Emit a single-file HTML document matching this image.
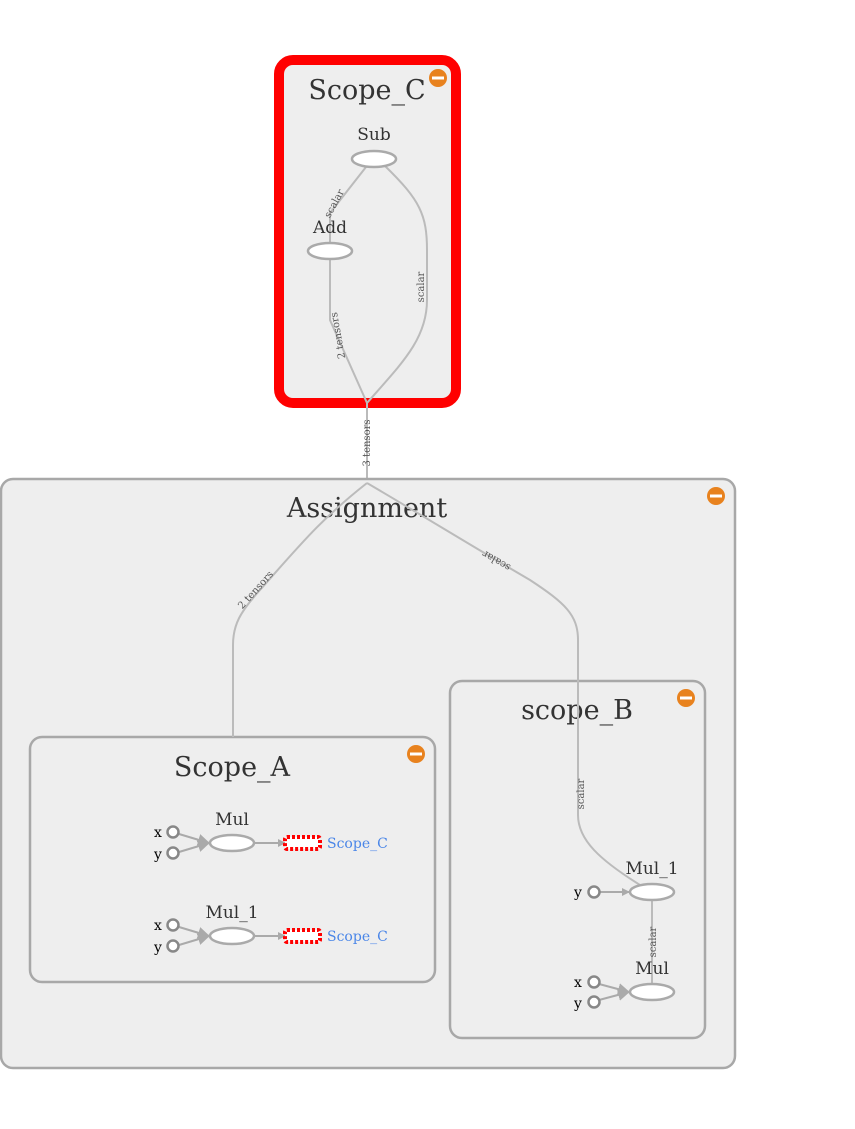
<!DOCTYPE html>
<html><head><style>body{margin:0;background:#fff}svg{display:block}</style></head><body>
<svg width="855" height="1129" viewBox="0 0 855 1129" xmlns="http://www.w3.org/2000/svg" font-family="'DejaVu Serif','Liberation Serif',serif">
<defs><marker id="ar" markerWidth="8" markerHeight="8" refX="7" refY="4" orient="auto" markerUnits="userSpaceOnUse"><path d="M0,0L8,4L0,8z" fill="#aaa"/></marker>
<marker id="ar2" markerWidth="12" markerHeight="12" refX="11" refY="6" orient="auto" markerUnits="userSpaceOnUse"><path d="M0,0L12,6L0,12z" fill="#aaa"/></marker></defs>
<rect x="279" y="60" width="177" height="343" rx="14" fill="#eee" stroke="#f00" stroke-width="10"/>
<text x="367" y="99" font-size="27" text-anchor="middle" fill="#333">Scope_C</text>
<circle cx="438" cy="78" r="9" fill="#e8821e"/><rect x="432" y="76.5" width="12" height="3" fill="#fff"/>
<g fill="none" stroke="#bbb" stroke-width="2">
<path d="M366,167 L330,213 L330,243"/>
<path d="M385,166 C420,200 427,215 427,250 L427,300 C427,340 400,365 367,403"/>
<path d="M330,259 L330,320 L367,403"/>
<path d="M367,403 L367,483"/>
</g>
<text font-size="10" fill="#555" transform="translate(337,205) rotate(-62)" text-anchor="middle">scalar</text>
<text font-size="10" fill="#555" transform="translate(424,287) rotate(-90)" text-anchor="middle">scalar</text>
<text font-size="10" fill="#555" transform="translate(341,335) rotate(-100)" text-anchor="middle">2 tensors</text>
<text font-size="10" fill="#555" transform="translate(370,443) rotate(-90)" text-anchor="middle">3 tensors</text>
<text x="374" y="140" font-size="17" text-anchor="middle" fill="#333">Sub</text>
<ellipse cx="374" cy="159" rx="22" ry="8" fill="#fff" stroke="#aaa" stroke-width="2.5"/>
<text x="330" y="233" font-size="17" text-anchor="middle" fill="#333">Add</text>
<ellipse cx="330" cy="251" rx="22" ry="8" fill="#fff" stroke="#aaa" stroke-width="2.5"/>
<rect x="1" y="479" width="734" height="589" rx="12" fill="#eee" stroke="#a8a8a8" stroke-width="2.5"/>
<text x="367" y="517" font-size="27" text-anchor="middle" fill="#333">Assignment</text>
<circle cx="716" cy="496" r="9" fill="#e8821e"/><rect x="710" y="494.5" width="12" height="3" fill="#fff"/>
<rect x="30" y="737" width="405" height="245" rx="12" fill="#eee" stroke="#a8a8a8" stroke-width="2.5"/>
<text x="232" y="776" font-size="27" text-anchor="middle" fill="#333">Scope_A</text>
<circle cx="416" cy="754" r="9" fill="#e8821e"/><rect x="410" y="752.5" width="12" height="3" fill="#fff"/>
<rect x="450" y="681" width="255" height="357" rx="12" fill="#eee" stroke="#a8a8a8" stroke-width="2.5"/>
<text x="577" y="719" font-size="27" text-anchor="middle" fill="#333">scope_B</text>
<circle cx="686" cy="698" r="9" fill="#e8821e"/><rect x="680" y="696.5" width="12" height="3" fill="#fff"/>
<g fill="none" stroke="#bbb" stroke-width="2">
<path d="M367,483 C320,520 300,545 260,590 C240,612 233,625 233,645 L233,737"/>
<path d="M367,483 C430,520 470,545 530,580 C565,603 578,615 578,640 L578,815 C578,840 600,860 640,885"/>
<path d="M652,900 L652,984"/>
</g>
<text font-size="10" fill="#555" transform="translate(258,592) rotate(-48)" text-anchor="middle">2 tensors</text>
<text font-size="10" fill="#555" transform="translate(498,558) rotate(210)" text-anchor="middle">scalar</text>
<text font-size="10" fill="#555" transform="translate(584,794) rotate(-90)" text-anchor="middle">scalar</text>
<text font-size="10" fill="#555" transform="translate(656,942) rotate(-90)" text-anchor="middle">scalar</text>
<g font-size="14" fill="#000">
<text x="158" y="837" text-anchor="middle">x</text><text x="158" y="859" text-anchor="middle">y</text>
<text x="158" y="930" text-anchor="middle">x</text><text x="158" y="952" text-anchor="middle">y</text>
<text x="578" y="897" text-anchor="middle">y</text>
<text x="578" y="987" text-anchor="middle">x</text><text x="578" y="1008" text-anchor="middle">y</text>
</g>
<g fill="none" stroke="#aaa" stroke-width="2">
<path d="M179,834 L209,843" marker-end="url(#ar2)"/><path d="M179,852 L209,843" marker-end="url(#ar2)"/>
<path d="M179,927 L209,936" marker-end="url(#ar2)"/><path d="M179,945 L209,936" marker-end="url(#ar2)"/>
<path d="M254,843 L285,843" marker-end="url(#ar)"/><path d="M254,936 L285,936" marker-end="url(#ar)"/>
<path d="M600,892 L629,892" marker-end="url(#ar)"/>
<path d="M599,984 L629,992" marker-end="url(#ar2)"/><path d="M599,1000 L629,992" marker-end="url(#ar2)"/>
</g>
<g fill="#fff" stroke="#888" stroke-width="2.5">
<circle cx="173" cy="832" r="5.5"/><circle cx="173" cy="853" r="5.5"/>
<circle cx="173" cy="925" r="5.5"/><circle cx="173" cy="946" r="5.5"/>
<circle cx="594" cy="892" r="5.5"/><circle cx="594" cy="982" r="5.5"/><circle cx="594" cy="1002" r="5.5"/>
</g>
<g fill="#fff" stroke="#aaa" stroke-width="2.5">
<ellipse cx="232" cy="843" rx="22" ry="8"/><ellipse cx="232" cy="936" rx="22" ry="8"/>
<ellipse cx="652" cy="892" rx="22" ry="8"/><ellipse cx="652" cy="992" rx="22" ry="8"/>
</g>
<g fill="#fff" stroke="#f00" stroke-width="4" stroke-dasharray="3,2">
<rect x="285" y="837" width="35" height="12" rx="2"/><rect x="285" y="930" width="35" height="12" rx="2"/>
</g>
<g font-size="17" fill="#333" text-anchor="middle">
<text x="232" y="825">Mul</text><text x="232" y="918">Mul_1</text>
<text x="652" y="874">Mul_1</text><text x="652" y="974">Mul</text>
</g>
<g font-size="14" fill="#4a86e8">
<text x="327" y="848">Scope_C</text><text x="327" y="941">Scope_C</text>
</g>
</svg>
</body></html>
